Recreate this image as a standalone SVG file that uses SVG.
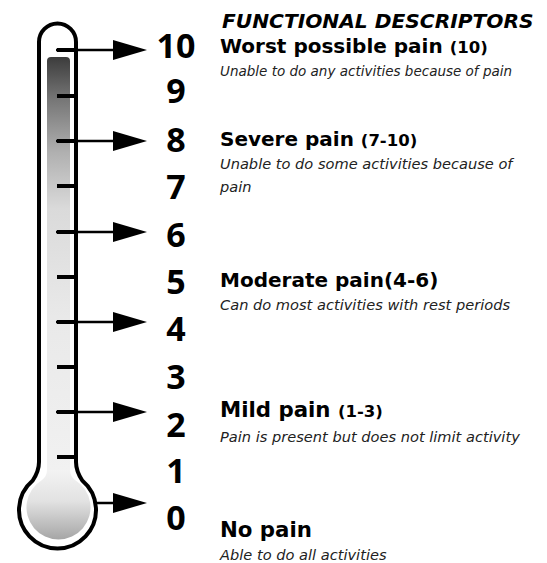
<svg xmlns="http://www.w3.org/2000/svg" width="547" height="563" viewBox="0 0 547 563">
<defs>
<style>
.outline{fill:#fff;stroke:#000;stroke-width:4}
.tick{stroke:#000;stroke-width:4}
.arrow{stroke:#000;stroke-width:2.5;fill:none;marker-end:url(#ah)}
.num{font-family:"Open Sans","DejaVu Sans",sans-serif;font-weight:700;font-size:34px;text-anchor:middle;fill:#000}
.title{font-family:"DejaVu Sans",Verdana,sans-serif;font-weight:700;font-style:italic;font-size:20.2px;fill:#000}
.head{font-family:"DejaVu Sans",Verdana,sans-serif;font-weight:700;font-size:20px;fill:#000}
.big{font-size:21.3px}
.rng{font-size:16.5px}
.desc{font-family:"DejaVu Sans",Verdana,sans-serif;font-style:italic;font-size:14.6px;fill:#222}
.small{font-size:13.5px}
</style>
<marker id="ah" markerUnits="userSpaceOnUse" markerWidth="34" markerHeight="20" refX="27" refY="10" orient="auto">
<path d="M0,0 L34,10 L0,20 Z" fill="#000"/>
</marker>
<linearGradient id="tubeG" gradientUnits="userSpaceOnUse" x1="0" y1="57" x2="0" y2="490">
<stop offset="0" stop-color="#3c3c3c"/>
<stop offset="0.1" stop-color="#777"/>
<stop offset="0.22" stop-color="#b0b0b0"/>
<stop offset="0.35" stop-color="#dadada"/>
<stop offset="0.6" stop-color="#e9e9e9"/>
<stop offset="1" stop-color="#f2f2f2"/>
</linearGradient>
<linearGradient id="bulbG" x1="0" y1="0" x2="0" y2="1">
<stop offset="0" stop-color="#f3f3f3"/>
<stop offset="0.45" stop-color="#e2e2e2"/>
<stop offset="1" stop-color="#a6a6a6"/>
</linearGradient>
</defs>
<rect width="547" height="563" fill="#fff"/>
<g id="thermometer">
<path class="outline" d="M39,42 A18.5,18.5 0 0 1 76,42 L76,462 Q76,471 82.25,480.5 A38.5,38.5 0 1 1 32.75,480.5 Q39,471 39,462 Z"/>
<rect x="47" y="57" width="23" height="430" rx="4" fill="url(#tubeG)"/>
<path d="M47,470 L70,470 Q70,476 75,480 A32,32 0 1 1 42,480 Q47,476 47,470 Z" fill="url(#bulbG)"/>
<g id="ticks">
<line class="tick" x1="57" y1="50" x2="76" y2="50"/>
<line class="tick" x1="57" y1="96" x2="76" y2="96"/>
<line class="tick" x1="57" y1="141" x2="76" y2="141"/>
<line class="tick" x1="57" y1="186" x2="76" y2="186"/>
<line class="tick" x1="57" y1="232" x2="76" y2="232"/>
<line class="tick" x1="57" y1="277" x2="76" y2="277"/>
<line class="tick" x1="57" y1="322" x2="76" y2="322"/>
<line class="tick" x1="57" y1="367" x2="76" y2="367"/>
<line class="tick" x1="57" y1="412" x2="76" y2="412"/>
<line class="tick" x1="57" y1="457" x2="76" y2="457"/>
</g>
</g>
<g id="connectors">
<line class="arrow" x1="56" y1="50" x2="140" y2="50"/>
<line class="arrow" x1="56" y1="141" x2="140" y2="141"/>
<line class="arrow" x1="56" y1="232" x2="140" y2="232"/>
<line class="arrow" x1="56" y1="322" x2="140" y2="322"/>
<line class="arrow" x1="56" y1="412" x2="140" y2="412"/>
<line class="arrow" x1="96" y1="503" x2="140" y2="503"/>
</g>
<g id="scale-10"><text class="num" x="176" y="58">10</text></g>
<g id="scale-9"><text class="num" x="176" y="103">9</text></g>
<g id="scale-8"><text class="num" x="176" y="152">8</text></g>
<g id="scale-7"><text class="num" x="176" y="199">7</text></g>
<g id="scale-6"><text class="num" x="176" y="247">6</text></g>
<g id="scale-5"><text class="num" x="176" y="294">5</text></g>
<g id="scale-4"><text class="num" x="176" y="341">4</text></g>
<g id="scale-3"><text class="num" x="176" y="389">3</text></g>
<g id="scale-2"><text class="num" x="176" y="437">2</text></g>
<g id="scale-1"><text class="num" x="176" y="483">1</text></g>
<g id="scale-0"><text class="num" x="176" y="530">0</text></g>
<g id="title"><text class="title" x="222" y="28">FUNCTIONAL DESCRIPTORS</text></g>
<g id="desc-worst">
<text class="head" x="220" y="53">Worst possible pain <tspan class="rng">(10)</tspan></text>
<text class="desc small" x="220" y="76">Unable to do any activities because of pain</text>
</g>
<g id="desc-severe">
<text class="head" x="220" y="146">Severe pain <tspan class="rng">(7-10)</tspan></text>
<text class="desc" x="220" y="169">Unable to do some activities because of</text>
<text class="desc" x="220" y="192">pain</text>
</g>
<g id="desc-moderate">
<text class="head" x="220" y="287">Moderate pain(4-6)</text>
<text class="desc" x="220" y="310">Can do most activities with rest periods</text>
</g>
<g id="desc-mild">
<text class="head big" x="220" y="417">Mild pain <tspan class="rng">(1-3)</tspan></text>
<text class="desc" x="220" y="442">Pain is present but does not limit activity</text>
</g>
<g id="desc-none">
<text class="head big" x="220" y="537">No pain</text>
<text class="desc" x="220" y="560">Able to do all activities</text>
</g>
</svg>
